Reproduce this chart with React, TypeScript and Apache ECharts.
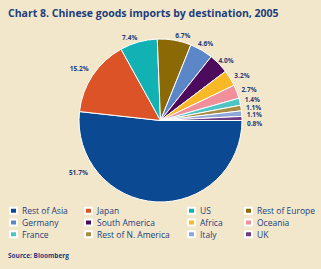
import React, { useEffect, useRef } from "react";
import * as echarts from "echarts";

const categories = [
  "Rest of Asia", "Japan", "US", "Rest of Europe", "Germany", "South America",
  "Africa", "Oceania", "France", "Rest of N. America", "Italy", "UK",
];
const values = [51.7, 15.2, 7.4, 6.7, 4.6, 4.0, 3.2, 2.7, 1.4, 1.1, 1.1, 0.8];
const colors = [
  "#0b4a93", "#dc5327", "#12b1b4", "#8b6a06", "#5b87c9", "#4c0b5c",
  "#f9b826", "#f1909b", "#4ec5c5", "#a88c42", "#8ea7d8", "#6e3c83",
];
const legendColumns = [
  ["Rest of Asia", "Germany", "France"],
  ["Japan", "South America", "Rest of N. America"],
  ["US", "Africa", "Italy"],
  ["Rest of Europe", "Oceania", "UK"],
];
const legendLefts = [9, 84, 187, 244];

const TEXT = "#1d3d7c";
const FONT = "'Open Sans', 'Noto Sans', sans-serif";

export default function App() {
  const ref = useRef<HTMLDivElement>(null);
  useEffect(() => {
    const chart = echarts.init(ref.current!, null, { renderer: "svg" });
    chart.setOption({
      animation: false,
      backgroundColor: "#f3e7cb",
      color: colors,
      title: [
        {
          text: "Chart 8. Chinese goods imports by destination, 2005",
          left: 8,
          top: 7,
          padding: 0,
          textStyle: { color: TEXT, fontFamily: FONT, fontWeight: "bold", fontSize: 10.5 },
        },
        {
          text: "Source: Bloomberg",
          left: 8,
          top: 252,
          padding: 0,
          textStyle: { color: TEXT, fontFamily: FONT, fontWeight: "bold", fontSize: 6.5 },
        },
      ],
      legend: legendColumns.map((col, i) => ({
        data: col,
        orient: "vertical",
        left: legendLefts[i],
        top: 205,
        padding: 0,
        itemGap: 0,
        itemWidth: 7,
        itemHeight: 6,
        icon: "rect",
        selectedMode: false,
        textStyle: { color: TEXT, fontFamily: FONT, fontSize: 8.5, lineHeight: 11.7 },
      })),
      series: [
        {
          type: "pie",
          center: [160.5, 120.5],
          radius: 81.5,
          startAngle: 0,
          clockwise: true,
          avoidLabelOverlap: false,
          itemStyle: { borderColor: "#ffffff", borderWidth: 1 },
          label: {
            show: true,
            position: "outside",
            formatter: (p: any) => p.value.toFixed(1) + "%",
            color: TEXT,
            fontFamily: FONT,
            fontWeight: "bold",
            fontSize: 6.5,
            lineHeight: 6,
            distanceToLabelLine: 0,
          },
          labelLine: { show: false, length: 5, length2: 0 },
          labelLayout: (params: any) => {
            if (params.dataIndex === 0) return { dx: -68, dy: -34 };
            if (params.dataIndex === 1) return { dy: -4 };
            if (params.dataIndex === 4) return { dx: -6, dy: -2 };
            if (params.dataIndex === 5) return { dx: -4 };
            if (params.dataIndex === 8) return { dy: -1 };
            if (params.dataIndex === 10) return { dy: 1.5 };
            if (params.dataIndex === 11) return { dy: 5 };
            return {};
          },
          data: categories.map((name, i) => ({ name, value: values[i] })),
        },
      ],
    });
    return () => chart.dispose();
  }, []);
  return (
    <div
      ref={ref}
      style={{ position: "fixed", left: 0, top: 0, width: 321, height: 269 }}
    />
  );
}
